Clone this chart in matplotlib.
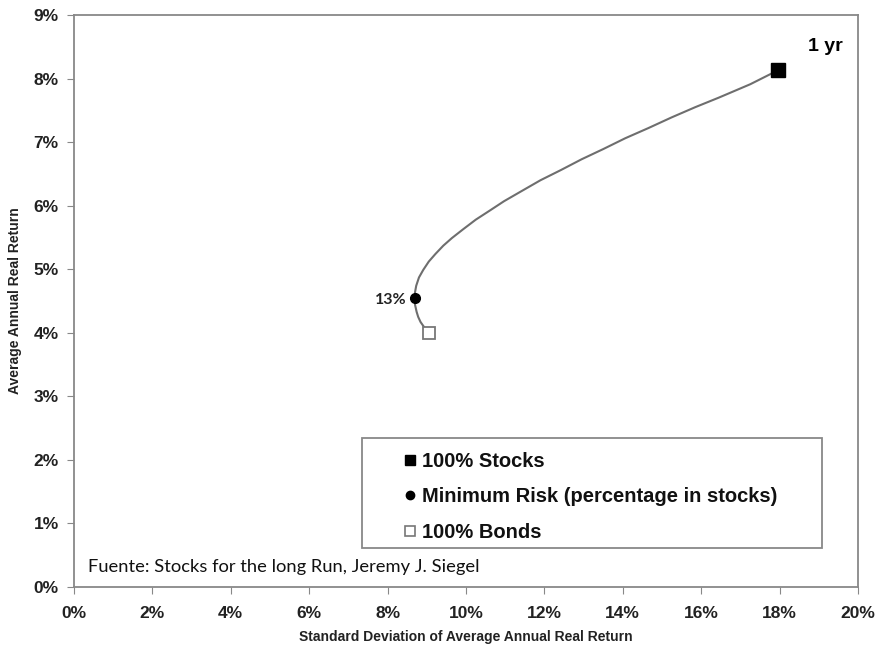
import matplotlib.pyplot as plt
from matplotlib.ticker import FuncFormatter
from matplotlib.lines import Line2D
from matplotlib.patches import Rectangle

# risk / return points read along the 1-year frontier (bonds -> stocks)
sd_curve = [9.05, 8.93, 8.84, 8.78, 8.74, 8.70, 8.69, 8.70, 8.73, 8.80, 8.91, 9.05, 9.22,
            9.42, 9.64, 9.93, 10.25, 10.60, 10.97, 11.42, 11.90, 12.42, 12.95, 13.50,
            14.06, 14.65, 15.25, 15.85, 16.45, 17.25, 17.96]
ret_curve = [4.00, 4.09, 4.17, 4.25, 4.33, 4.44, 4.54, 4.64, 4.74, 4.87, 4.99, 5.12, 5.24,
             5.37, 5.49, 5.63, 5.78, 5.92, 6.07, 6.23, 6.40, 6.56, 6.73, 6.89,
             7.06, 7.22, 7.39, 7.55, 7.70, 7.91, 8.13]

stocks = (17.96, 8.13)
bonds = (9.05, 4.00)
min_risk = (8.69, 4.54)
min_risk_label = "13%"

x_ticks = [0, 2, 4, 6, 8, 10, 12, 14, 16, 18, 20]
y_ticks = [0, 1, 2, 3, 4, 5, 6, 7, 8, 9]

legend_labels = ["100% Stocks", "Minimum Risk (percentage in stocks)", "100% Bonds"]

plt.rcParams['font.family'] = ['Liberation Sans', 'DejaVu Sans']
fig = plt.figure(figsize=(8.83, 6.6), dpi=100)
ax = fig.add_axes([0.0838, 0.1106, 0.8879, 0.8667])

gray = '#888888'
ax.plot(sd_curve, ret_curve, color='#6e6e6e', lw=1.5, zorder=2)
ax.plot(*stocks, marker='s', ms=10, color='black', zorder=3)
ax.plot(*min_risk, marker='o', ms=7, color='black', zorder=3)
ax.plot(*bonds, marker='s', ms=9, mfc='white', mec='#777777', mew=1.3, zorder=3)
ax.text(min_risk[0] - 0.2, min_risk[1] - 0.02, min_risk_label, ha='right', va='center',
        fontsize=11.5, fontweight='bold', color='#222222', family='Lato')

ax.text(19.6, 8.5, "1 yr", ha='right', va='center', fontsize=14, fontweight='bold')

ax.set_xlim(0, 20)
ax.set_ylim(0, 9)
ax.set_xticks(x_ticks)
ax.set_yticks(y_ticks)
ax.xaxis.set_major_formatter(FuncFormatter(lambda v, p: f"{v:.0f}%"))
ax.yaxis.set_major_formatter(FuncFormatter(lambda v, p: f"{v:.0f}%"))
for lab in ax.get_xticklabels() + ax.get_yticklabels():
    lab.set_fontweight('bold')
    lab.set_fontsize(12.5)
    lab.set_color('#222222')
ax.tick_params(axis='x', direction='out', length=5, color=gray, pad=9)
ax.tick_params(axis='y', direction='out', length=5, color=gray, pad=6)
for s in ax.spines.values():
    s.set_color(gray)
    s.set_linewidth(1.3)

ax.set_xlabel("Standard Deviation of Average Annual Real Return", fontsize=10,
              fontweight='bold', color='#222222', labelpad=6)
ax.set_ylabel("Average Annual Real Return", fontsize=10, fontweight='bold',
              color='#222222', labelpad=8)

# legend box drawn separately so the entries can sit indented inside it
ax.add_patch(Rectangle((0.367, 0.068), 0.587, 0.192, transform=ax.transAxes,
                       facecolor='white', edgecolor=gray, lw=1.3, zorder=4))
handles = [
    Line2D([], [], ls='none', marker='s', ms=7.5, color='black'),
    Line2D([], [], ls='none', marker='o', ms=6, color='black'),
    Line2D([], [], ls='none', marker='s', ms=7.5, mfc='white', mec='#777777', mew=1.2),
]
leg = ax.legend(handles, legend_labels, loc='upper left', bbox_to_anchor=(0.413, 0.247),
                frameon=False, handlelength=0.6, handletextpad=0.3, borderpad=0.3,
                labelspacing=0.82, prop={'weight': 'bold', 'size': 14.5}, borderaxespad=0)
leg.set_zorder(5)
for t in leg.get_texts():
    t.set_color('#111111')

ax.text(0.018, 0.035, "Fuente: Stocks for the long Run, Jeremy J. Siegel", transform=ax.transAxes,
        ha='left', va='center', fontsize=13.2, family='Lato', color='#111111',
        bbox=dict(facecolor='white', edgecolor='none', pad=1))

fig.savefig('out.png', dpi=100)
